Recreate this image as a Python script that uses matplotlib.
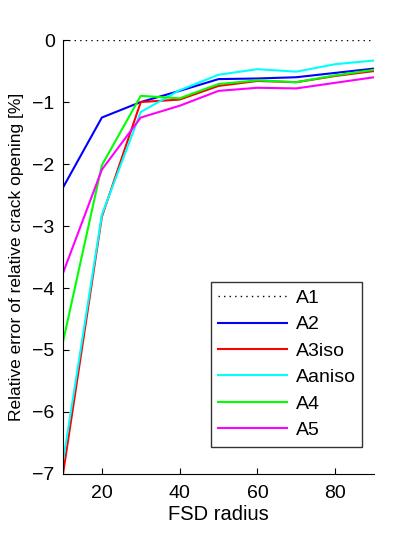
import matplotlib.pyplot as plt
import numpy as np

plt.rcParams['font.family'] = ['Liberation Sans', 'DejaVu Sans']
plt.rcParams['font.size'] = 14

# FSD radius values
radius = [10, 20, 30, 40, 50, 60, 70, 80, 90]

# relative error [%] per approach
a1 = [0, 0, 0, 0, 0, 0, 0, 0, 0]
a2 = [-2.38, -1.25, -1.0, -0.82, -0.63, -0.62, -0.60, -0.53, -0.46]
a3iso = [-7.0, -2.85, -1.0, -0.96, -0.74, -0.66, -0.68, -0.58, -0.50]
aaniso = [-6.8, -2.82, -1.16, -0.81, -0.56, -0.47, -0.51, -0.39, -0.33]
a4 = [-4.87, -2.02, -0.90, -0.94, -0.71, -0.65, -0.68, -0.57, -0.48]
a5 = [-3.76, -2.09, -1.25, -1.06, -0.82, -0.77, -0.78, -0.69, -0.60]

labels = ['A1', 'A2', 'A3iso', 'Aaniso', 'A4', 'A5']

fig = plt.figure(figsize=(4.13, 5.34), dpi=100)
ax = fig.add_axes([0.1525, 0.1124, 0.7531, 0.8126])

ax.plot(radius, a1, color='black', linestyle=(0, (1, 3)), lw=1.0, label=labels[0])
ax.plot(radius, a2, color='#0000ff', lw=1.5, label=labels[1])
ax.plot(radius, a3iso, color='#ff0000', lw=1.5, label=labels[2])
ax.plot(radius, aaniso, color='#00ffff', lw=1.5, label=labels[3])
ax.plot(radius, a4, color='#00ff00', lw=1.5, label=labels[4])
ax.plot(radius, a5, color='#ff00ff', lw=1.5, label=labels[5])

ax.set_xlim(10, 90)
ax.set_ylim(-7, 0)
ax.set_xticks([20, 40, 60, 80])
ax.set_yticks(np.arange(-7, 1, 1))
ax.tick_params(direction='in', length=4, labelsize=14)
ax.tick_params(axis='x', pad=8)
ax.tick_params(axis='y', pad=6)
ax.spines['top'].set_visible(False)
ax.spines['right'].set_visible(False)

ax.set_xlabel('FSD radius', fontsize=14.5, labelpad=2)
ax.set_ylabel('Relative error of relative crack opening [%]', fontsize=12.5, labelpad=6)

leg = ax.legend(loc='lower left', bbox_to_anchor=(0.475, 0.063, 0.486, 0.378),
                mode='expand', fancybox=False, edgecolor='black',
                handlelength=3.5, handletextpad=0.5, labelspacing=0.45,
                borderaxespad=0, fontsize=14)
leg.get_frame().set_linewidth(1.0)

fig.savefig('out.png', dpi=100)
